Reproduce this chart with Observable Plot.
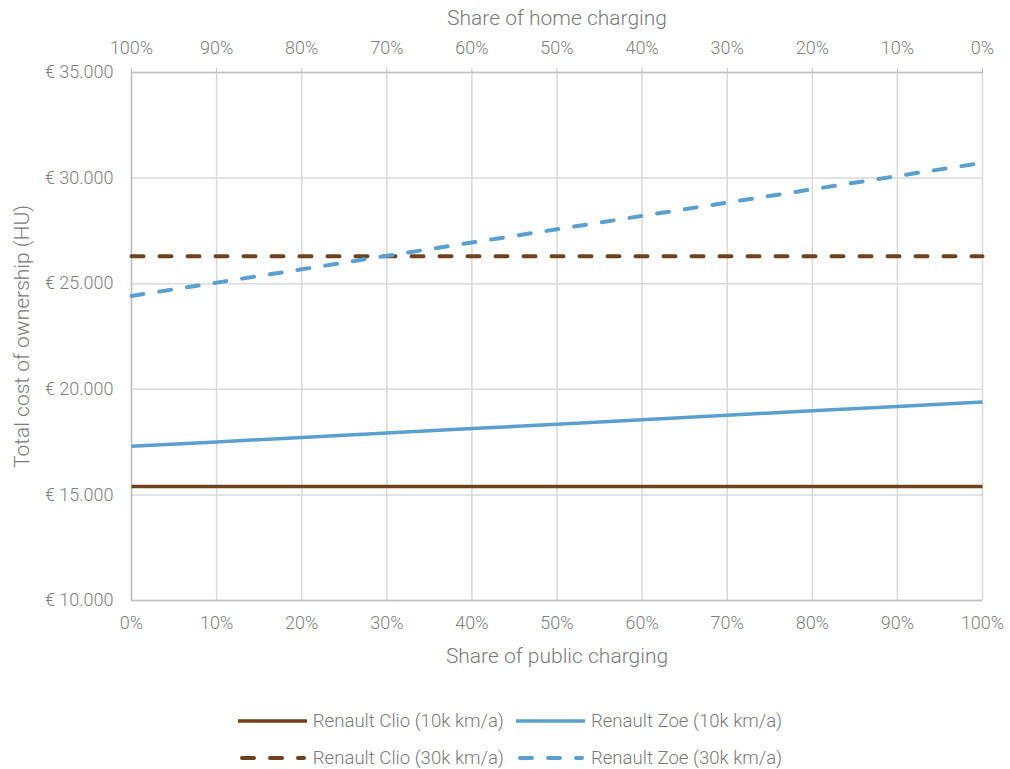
<!DOCTYPE html>
<html>
<head>
<meta charset="utf-8">
<script src="https://cdn.jsdelivr.net/npm/d3@7"></script>
<script src="https://cdn.jsdelivr.net/npm/@observablehq/plot@0.6"></script>
<style>
  body { margin: 0; background: #fff; font-family: Roboto, sans-serif; }
  #legend { width: 1000px; padding-left: 10px; padding-top: 12px; font-family: Roboto, sans-serif; font-weight: 300; font-size: 18.6px; color: #7a7a7a; }
  .row { display: flex; justify-content: center; align-items: center; height: 37px; }
  .item { display: flex; align-items: center; margin: 0 6px; }
  .item svg { margin-right: 6px; }
</style>
</head>
<body>
<div id="chart"></div>
<div id="legend"></div>
<script>
// Share of public charging (%)
const shares = [0, 10, 20, 30, 40, 50, 60, 70, 80, 90, 100];
const seriesNames = ["Renault Clio (10k km/a)", "Renault Zoe (10k km/a)", "Renault Clio (30k km/a)", "Renault Zoe (30k km/a)"];
const seriesColors = ["#71411e", "#5aa0cf", "#71411e", "#5aa0cf"];
const seriesDashed = [false, false, true, true];
const clio10 = [15400, 15400, 15400, 15400, 15400, 15400, 15400, 15400, 15400, 15400, 15400];
const zoe10 = [17300, 17510, 17720, 17930, 18140, 18340, 18560, 18770, 18980, 19190, 19400];
const clio30 = [26300, 26300, 26300, 26300, 26300, 26300, 26300, 26300, 26300, 26300, 26300];
const zoe30 = [24420, 25050, 25680, 26320, 26950, 27580, 28210, 28840, 29470, 30100, 30720];
const xTicks = [0, 10, 20, 30, 40, 50, 60, 70, 80, 90, 100];
const yTicks = [10000, 15000, 20000, 25000, 30000, 35000];
const seriesValues = [clio10, zoe10, clio30, zoe30];

const data = [];
seriesNames.forEach((name, i) => {
  shares.forEach((s, j) => data.push({series: name, share: s, value: seriesValues[i][j]}));
});

const euro = d => "€ " + d3.format(",")(d).replace(/,/g, ".");
const grid = "#d9d9d9";
const frameCol = "#bfbfbf";
const textCol = "#808080";

const lineMarks = seriesNames.map((name, i) =>
  Plot.line(data.filter(d => d.series === name), {
    x: "share", y: "value",
    stroke: seriesColors[i],
    strokeWidth: seriesDashed[i] ? 4 : 3.5,
    strokeDasharray: seriesDashed[i] ? "12,16" : null,
    strokeLinecap: seriesDashed[i] ? "round" : "butt"
  })
);

const chart = Plot.plot({
  width: 1010,
  height: 690,
  marginLeft: 131,
  marginRight: 28,
  marginTop: 72,
  marginBottom: 90,
  style: {fontFamily: "Roboto, sans-serif", fontSize: "18px", fontWeight: 300, color: textCol, background: "#fff", overflow: "visible"},
  x: {domain: [0, 100]},
  y: {domain: [10000, 35000]},
  marks: [
    Plot.gridX(xTicks, {stroke: grid, strokeOpacity: 1, strokeWidth: 1.5}),
    Plot.gridY(yTicks, {stroke: grid, strokeOpacity: 1, strokeWidth: 1.5}),
    Plot.ruleX([0], {stroke: frameCol, strokeWidth: 1.5}),
    Plot.ruleY([10000, 35000], {stroke: frameCol, strokeWidth: 1.5}),
    Plot.axisX(xTicks, {anchor: "bottom", tickSize: 0, tickPadding: 16, fontSize: 18, tickFormat: d => d + "%", label: null, fill: textCol}),
    Plot.axisX(xTicks, {anchor: "top", tickSize: 5, tickPadding: 14, fontSize: 18, stroke: frameCol, tickFormat: d => (100 - d) + "%", label: null, fill: textCol}),
    Plot.axisY(yTicks, {anchor: "left", tickSize: 0, tickPadding: 18, fontSize: 18, tickFormat: euro, label: null, fill: textCol}),
    Plot.text(["Share of public charging"], {frameAnchor: "bottom", dy: 56, lineAnchor: "middle", fontSize: 21, fill: "#7a7a7a"}),
    Plot.text(["Share of home charging"], {frameAnchor: "top", dy: -54, lineAnchor: "middle", fontSize: 21, fill: "#7a7a7a"}),
    Plot.text(["Total cost of ownership (HU)"], {frameAnchor: "left", dx: -109, rotate: -90, textAnchor: "middle", lineAnchor: "middle", fontSize: 21, fill: "#7a7a7a"}),
    ...lineMarks
  ]
});
document.getElementById("chart").appendChild(chart);

// Legend
const legend = document.getElementById("legend");
const rows = [[0, 1], [2, 3]];
rows.forEach(r => {
  const row = document.createElement("div");
  row.className = "row";
  r.forEach(i => {
    const item = document.createElement("div");
    item.className = "item";
    const dash = seriesDashed[i] ? `stroke-dasharray="12,16" stroke-linecap="round" x1="4" x2="66"` : `x1="0" x2="69"`;
    item.innerHTML = `<svg width="69" height="10"><line ${dash} y1="5" y2="5" stroke="${seriesColors[i]}" stroke-width="${seriesDashed[i] ? 4 : 3.5}"/></svg><span>${seriesNames[i]}</span>`;
    row.appendChild(item);
  });
  legend.appendChild(row);
});
</script>
</body>
</html>
